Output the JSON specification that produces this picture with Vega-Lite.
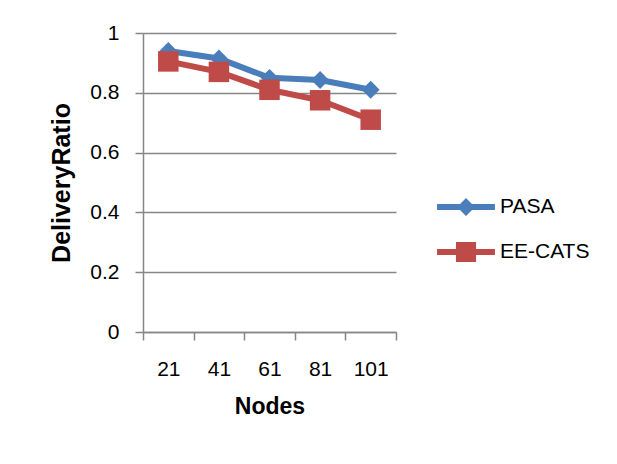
{
  "$schema": "https://vega.github.io/schema/vega-lite/v6.json",
  "width": 253,
  "height": 299,
  "autosize": "none",
  "padding": {"left": 143, "top": 33, "right": 221, "bottom": 132},
  "background": "white",
  "data": {
    "values": [
      {"Nodes": 21, "Series": "PASA", "DeliveryRatio": 0.94},
      {"Nodes": 41, "Series": "PASA", "DeliveryRatio": 0.915},
      {"Nodes": 61, "Series": "PASA", "DeliveryRatio": 0.85},
      {"Nodes": 81, "Series": "PASA", "DeliveryRatio": 0.843},
      {"Nodes": 101, "Series": "PASA", "DeliveryRatio": 0.81},
      {"Nodes": 21, "Series": "EE-CATS", "DeliveryRatio": 0.905},
      {"Nodes": 41, "Series": "EE-CATS", "DeliveryRatio": 0.87},
      {"Nodes": 61, "Series": "EE-CATS", "DeliveryRatio": 0.81},
      {"Nodes": 81, "Series": "EE-CATS", "DeliveryRatio": 0.775},
      {"Nodes": 101, "Series": "EE-CATS", "DeliveryRatio": 0.71}
    ]
  },
  "encoding": {
    "x": {
      "field": "Nodes",
      "type": "ordinal",
      "scale": {"type": "band", "paddingInner": 0, "paddingOuter": 0},
      "axis": {
        "labelAngle": 0,
        "tickBand": "extent",
        "grid": false,
        "tickSize": 8,
        "labelPadding": 18,
        "labelFontSize": 21,
        "title": "Nodes",
        "titleFontSize": 23,
        "titleFontWeight": "bold",
        "titlePadding": 16
      }
    },
    "y": {
      "field": "DeliveryRatio",
      "type": "quantitative",
      "scale": {"domain": [0, 1], "nice": false, "zero": true},
      "axis": {
        "values": [0, 0.2, 0.4, 0.6, 0.8, 1],
        "format": "~g",
        "grid": true,
        "tickSize": 8,
        "labelPadding": 16,
        "labelFontSize": 21,
        "title": "DeliveryRatio",
        "titleFontSize": 25,
        "titleFontWeight": "bold",
        "titlePadding": 15
      }
    },
    "color": {
      "field": "Series",
      "type": "nominal",
      "scale": {"domain": ["PASA", "EE-CATS"], "range": ["#4A7EBB", "#BE4B48"]},
      "legend": {
        "orient": "none",
        "legendX": 308,
        "legendY": 159,
        "title": null,
        "padding": 0,
        "symbolSize": 900,
        "symbolStrokeWidth": 0,
        "labelFontSize": 21,
        "labelColor": "#000000",
        "labelOffset": 19,
        "rowPadding": 20,
        "encode": {
          "symbols": {
            "update": {
              "shape": {"signal": "datum.value === 'PASA' ? 'M-1.93,-0.2H1.93V0.2H-1.93ZM-0.6,0L0,-0.6L0.6,0L0,0.6Z' : 'M-1.93,-0.2H1.93V0.2H-1.93ZM-0.67,-0.67H0.67V0.67H-0.67Z'"},
              "fill": {"scale": "color", "field": "value"},
              "strokeWidth": {"value": 0},
              "opacity": {"value": 1}
            }
          }
        }
      }
    }
  },
  "layer": [
    {"transform": [{"filter": "datum.Series === 'PASA'"}], "mark": {"type": "line", "strokeWidth": 6}},
    {"transform": [{"filter": "datum.Series === 'PASA'"}], "mark": {"type": "point", "shape": "diamond", "filled": true, "size": 320, "opacity": 1}},
    {"transform": [{"filter": "datum.Series === 'EE-CATS'"}], "mark": {"type": "line", "strokeWidth": 6}},
    {"transform": [{"filter": "datum.Series === 'EE-CATS'"}], "mark": {"type": "point", "shape": "square", "filled": true, "size": 420, "opacity": 1}}
  ],
  "config": {
    "view": {"stroke": null},
    "font": "Liberation Sans",
    "axis": {
      "labelColor": "#000000",
      "titleColor": "#000000",
      "domainColor": "#868686",
      "domainWidth": 1.5,
      "tickColor": "#868686",
      "tickWidth": 1.5,
      "gridColor": "#868686",
      "gridWidth": 1.5
    }
  }
}
